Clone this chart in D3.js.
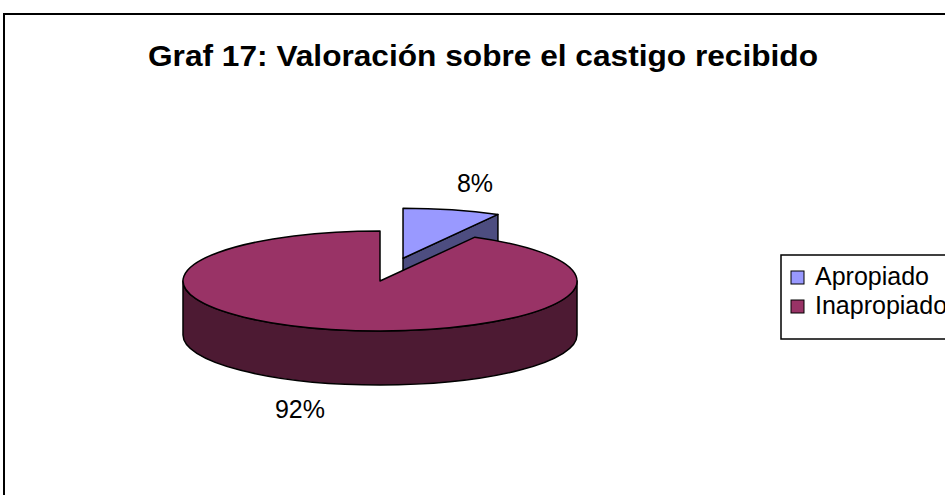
<!DOCTYPE html>
<html>
<head>
<meta charset="utf-8">
<script src="https://cdn.jsdelivr.net/npm/d3@7"></script>
<style>
    body { margin: 0; background: #fff; }
    svg { display: block; }
    text { font-family: "Liberation Sans", Arial, sans-serif; }
</style>
</head>
<body>
<div id="chart-ctn"></div>
<script>
// Data
let categories = ["Apropiado", "Inapropiado"];
let values = [8, 92];
let labels = ["8%", "92%"];
let title = "Graf 17: Valoración sobre el castigo recibido";

let topColors = ["#9999ff", "#993366"];
let sideColors = ["#4d4d80", "#4d1a33"];

let width = 945;
let height = 495;

// pie geometry (flattened 3D look)
let cx = 380, cy = 281;
let rx = 197, ry = 50;
let depth = 54;
let explode = 0.47;

let svg = d3
    .select("#chart-ctn")
    .append("svg")
    .attr("width", width)
    .attr("height", height);

// chart frame, runs off the right and bottom edges
svg.append("rect")
    .attr("x", 4)
    .attr("y", 14)
    .attr("width", 1000)
    .attr("height", 600)
    .attr("fill", "none")
    .attr("stroke", "#000")
    .attr("stroke-width", 2);

svg.append("text")
    .attr("x", 483)
    .attr("y", 66)
    .attr("text-anchor", "middle")
    .attr("font-size", 30)
    .attr("font-weight", "bold")
    .attr("textLength", 670)
    .attr("lengthAdjust", "spacingAndGlyphs")
    .text(title);

let pie = d3.pie().sort(null).startAngle(0).endAngle(2 * Math.PI);
let arcs = pie(values);

// point on the ellipse rim, angle clockwise from 12 o'clock
function pt(o, a, dz) {
    return [o[0] + rx * Math.sin(a), o[1] - ry * Math.cos(a) + (dz || 0)];
}

function topPath(o, a0, a1) {
    let p0 = pt(o, a0), p1 = pt(o, a1);
    let large = a1 - a0 > Math.PI ? 1 : 0;
    return "M" + o[0] + "," + o[1] +
        "L" + p0 + "A" + rx + "," + ry + " 0 " + large + " 1 " + p1 + "Z";
}

function outerWall(o, a0, a1) {
    // only the front half of the rim can be seen
    let s = Math.max(a0, Math.PI / 2), e = Math.min(a1, 1.5 * Math.PI);
    if (e <= s) return null;
    let p0 = pt(o, s), p1 = pt(o, e);
    let q0 = pt(o, s, depth), q1 = pt(o, e, depth);
    return "M" + p0 + "A" + rx + "," + ry + " 0 0 1 " + p1 +
        "L" + q1 + "A" + rx + "," + ry + " 0 0 0 " + q0 + "Z";
}

function radialWall(o, a) {
    let p = pt(o, a);
    return "M" + o + "L" + p + "L" + [p[0], p[1] + depth] +
        "L" + [o[0], o[1] + depth] + "Z";
}

let g = svg.append("g");

// draw back slice (small, exploded) first, then the big one
arcs.forEach(function (d, i) {
    let mid = (d.startAngle + d.endAngle) / 2;
    let o = [cx, cy];
    if (i == 0) {
        o = [cx + explode * rx * Math.sin(mid), cy - explode * ry * Math.cos(mid)];
        g.append("path")
            .attr("d", radialWall(o, d.endAngle))
            .attr("fill", sideColors[i])
            .attr("stroke", "#000")
            .attr("stroke-width", 1.5)
            .attr("stroke-linejoin", "round");
    }
    let wall = outerWall(o, d.startAngle, d.endAngle);
    if (wall) {
        g.append("path")
            .attr("d", wall)
            .attr("fill", sideColors[i])
            .attr("stroke", "#000")
            .attr("stroke-width", 1.5)
            .attr("stroke-linejoin", "round");
    }
    g.append("path")
        .attr("d", topPath(o, d.startAngle, d.endAngle))
        .attr("fill", topColors[i])
        .attr("stroke", "#000")
        .attr("stroke-width", 1.5)
        .attr("stroke-linejoin", "round");
});

// data labels
let labelPos = [[475, 192], [300, 418]];
labels.forEach(function (t, i) {
    svg.append("text")
        .attr("x", labelPos[i][0])
        .attr("y", labelPos[i][1])
        .attr("text-anchor", "middle")
        .attr("font-size", 25)
        .text(t);
});

// legend
let legend = svg.append("g").attr("transform", "translate(781,255)");
legend.append("rect")
    .attr("width", 200)
    .attr("height", 84)
    .attr("fill", "#fff")
    .attr("stroke", "#000")
    .attr("stroke-width", 1.5);

categories.forEach(function (c, i) {
    let row = legend.append("g").attr("transform", "translate(10," + (16 + i * 29) + ")");
    row.append("rect")
        .attr("width", 13)
        .attr("height", 13)
        .attr("fill", topColors[i])
        .attr("stroke", "#000")
        .attr("stroke-width", 1);
    row.append("text")
        .attr("x", 24)
        .attr("y", 14)
        .attr("font-size", 25)
        .text(c);
});
</script>
</body>
</html>
